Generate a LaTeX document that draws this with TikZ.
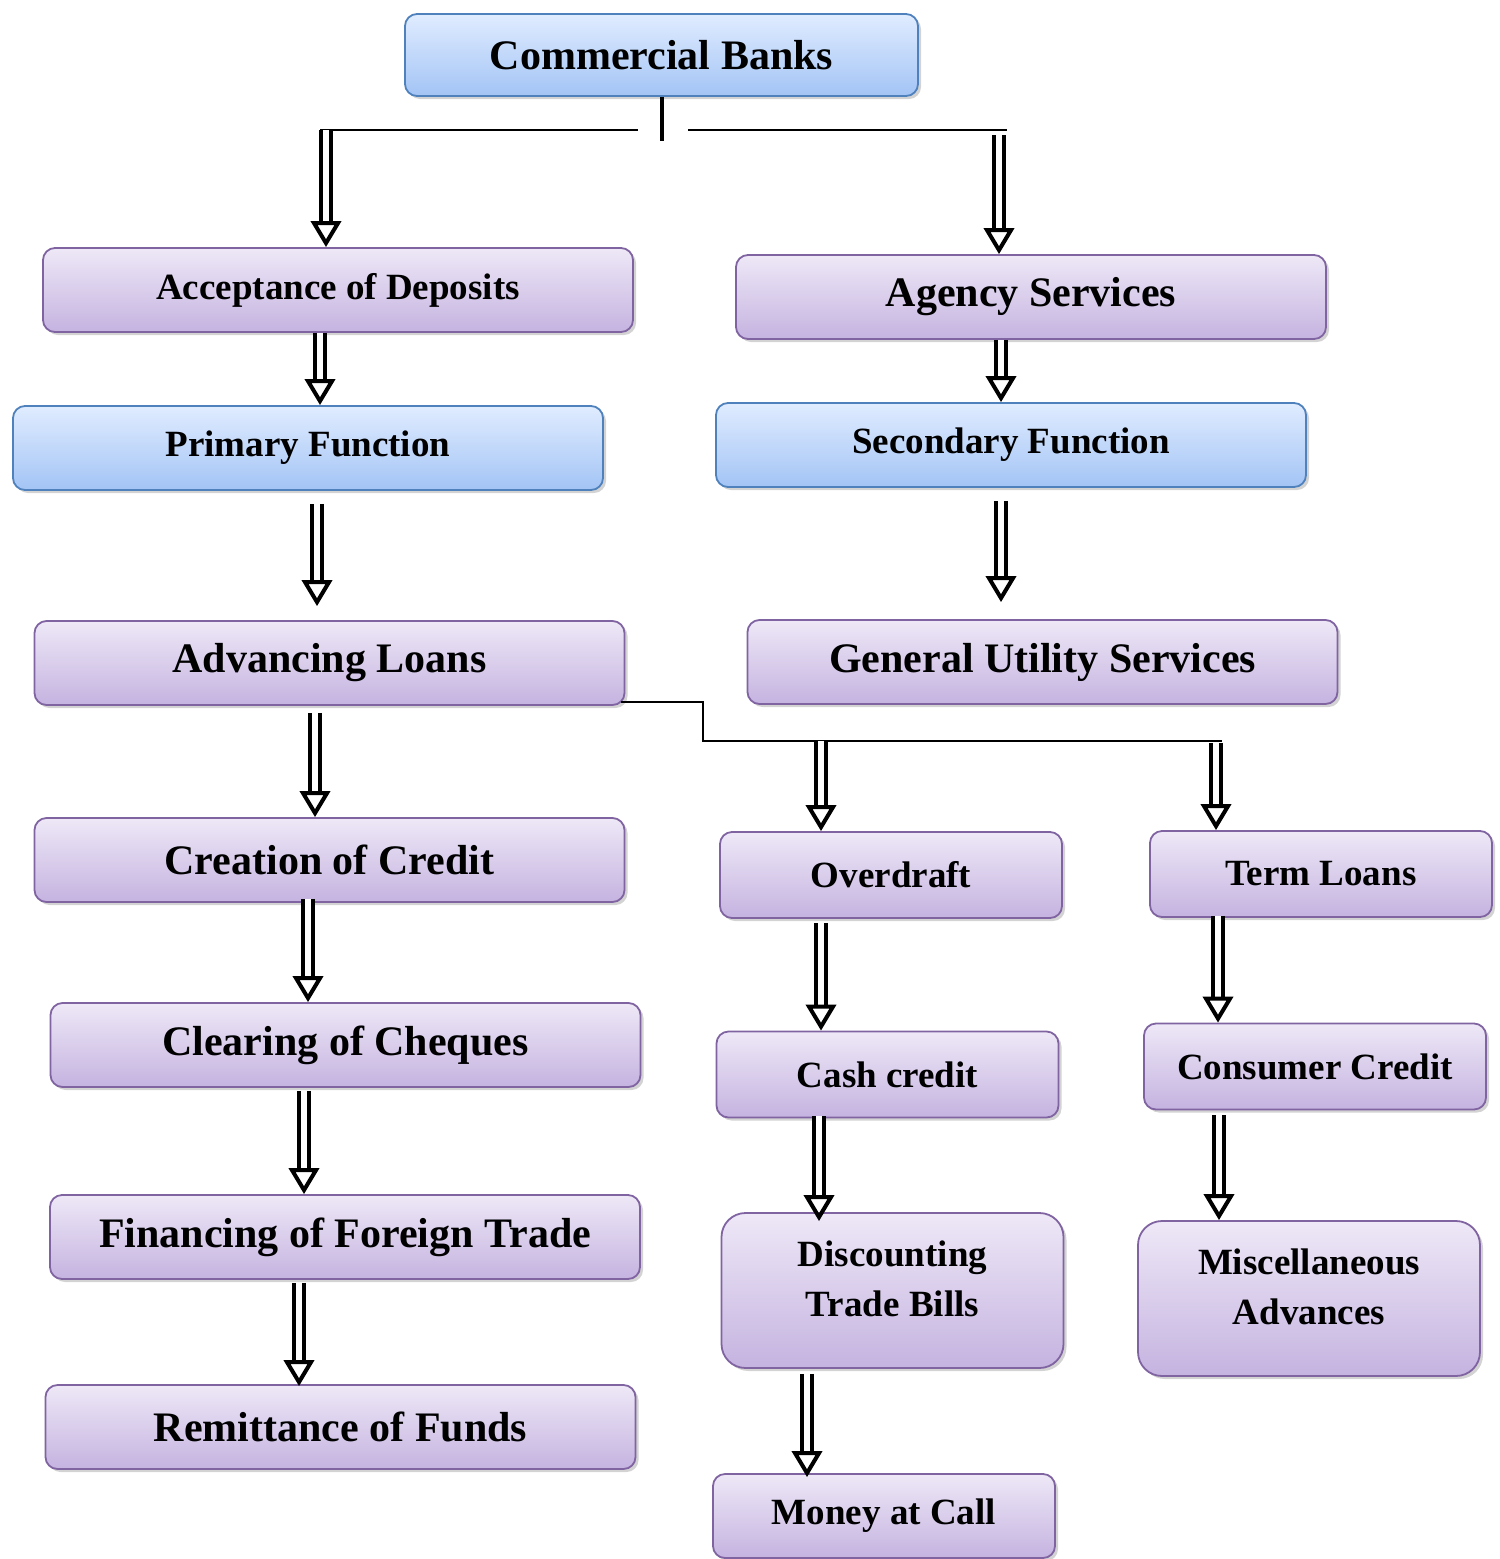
\documentclass[tikz,border=0pt]{standalone}
\usepackage{fontspec}
\setmainfont{Liberation Serif}
\usetikzlibrary{arrows.meta,calc,shadows}

\definecolor{bluetop}{HTML}{E0ECFF}
\definecolor{bluebot}{HTML}{A3C4F5}
\definecolor{blueedge}{HTML}{4F81BD}
\definecolor{purptop}{HTML}{EEE8F7}
\definecolor{purpbot}{HTML}{C5B3E0}
\definecolor{purpedge}{HTML}{8064A2}

\tikzset{
    box/.style={draw, line width=0.9pt, rounded corners=6pt, align=center,
        inner sep=0pt, minimum width=295pt, minimum height=42pt,
        drop shadow={shadow xshift=1.5pt, shadow yshift=-1.5pt, opacity=0.35}},
    bluebox/.style={box, draw=blueedge, top color=bluetop, bottom color=bluebot},
    purplebox/.style={box, draw=purpedge, top color=purptop, bottom color=purpbot},
    smallbox/.style={purplebox, minimum width=171pt, minimum height=43pt},
    tallbox/.style={smallbox, minimum height=77.5pt, rounded corners=12pt},
    bigtext/.style={font=\fontsize{21}{25}\selectfont\bfseries},
    smalltext/.style={font=\fontsize{18.5}{25}\selectfont\bfseries},
    flow/.style={double, double distance=3pt, line width=2pt,
        -{Triangle[open, length=13pt, width=15pt]}},
    link/.style={line width=0.8pt}
}

\begin{document}
\begin{tikzpicture}[x=0.5pt, y=-0.5pt]
\useasboundingbox (0,0) rectangle (1500,1559);

% top
\node[bluebox, bigtext, minimum width=256.5pt, minimum height=41pt] (cb) at (661.5,55) {Commercial Banks};

% left side
\node[purplebox, smalltext] (acc) at (338,290) {Acceptance of Deposits};
\node[bluebox, smalltext] (prim) at (308,448) {Primary Function};
\node[purplebox, bigtext] (adv) at (329.5,663) {Advancing Loans};
\node[purplebox, bigtext] (cre) at (329.5,860) {Creation of Credit};
\node[purplebox, bigtext] (clr) at (345.5,1045) {Clearing of Cheques};
\node[purplebox, bigtext] (fin) at (345,1237) {Financing of Foreign Trade};
\node[purplebox, bigtext] (rem) at (340.5,1427) {Remittance of Funds};

% right side
\node[purplebox, bigtext] (agency) at (1031,297) {Agency Services};
\node[bluebox, smalltext] (sec) at (1011,445) {Secondary Function};
\node[purplebox, bigtext] (gus) at (1042.5,662) {General Utility Services};

% kinds of loans
\node[smallbox, smalltext] (od) at (891,875) {Overdraft};
\node[smallbox, smalltext] (cc) at (887.5,1074.5) {Cash credit};
\node[tallbox, smalltext] (dis) at (892.5,1290.5) {Discounting\\Trade Bills\\[-13pt]};
\node[smallbox, smalltext, minimum height=42pt] (mac) at (884,1516) {Money at Call};
\node[smallbox, smalltext] (tl) at (1321,874) {Term Loans};
\node[smallbox, smalltext] (con) at (1315,1066.5) {Consumer Credit};
\node[tallbox, smalltext] (misc) at (1309,1298.5) {Miscellaneous\\Advances\\[-13pt]};

% split below the top box
\coordinate (hubL) at (320,130);
\coordinate (hubLe) at (638,130);
\coordinate (hubRs) at (688,130);
\coordinate (hubR) at (1007,130);
\draw[line width=2pt] (cb.south) -- ++(0,44);
\draw[link] (hubL) -- (hubLe);
\draw[link] (hubRs) -- (hubR);
\draw[flow] ($(hubL)+(6,0)$) -- ($(acc.north)+(-12,0)$);
\draw[flow] ($(hubR)+(-8,5)$) -- ($(agency.north)+(-32,0)$);

% left chain
\draw[flow] ($(acc.south)+(-18,0)$) -- ($(prim.north -| acc.south)+(-18,0)$);
\draw[flow] ($(prim.south)+(9,13)$) -- ($(adv.north -| prim.south)+(9,-14)$);
\draw[flow] ($(adv.south)+(-14.5,7)$) -- ($(cre.north -| adv.south)+(-14.5,0)$);
\draw[flow] ($(cre.south)+(-21.5,-4)$) -- ($(clr.north -| cre.south)+(-21.5,0)$);
\draw[flow] ($(clr.south)+(-41.5,3)$) -- ($(fin.north -| clr.south)+(-41.5,0)$);
\draw[flow] ($(fin.south)+(-46,3)$) -- ($(rem.north -| fin.south)+(-46,2)$);

% right chain
\draw[flow] ($(agency.south)+(-30,0)$) -- ($(sec.north -| agency.south)+(-30,0)$);
\draw[flow] ($(sec.south)+(-10,13)$) -- ($(gus.north -| sec.south)+(-10,-17)$);

% branch from advancing loans
\coordinate (brA) at (821,741);
\coordinate (brB) at (1216,741);
\draw[link] ($(adv.south east)+(-4,-4)$) -| (703,741) -- ($(brB)+(6,0)$);
\draw[flow] (brA) -- (brA |- od.north);
\draw[flow] ($(brB)+(0,2)$) -- (brB |- tl.north);

% loan chains
\draw[flow] ($(od.south)+(-70,4)$) -- ($(cc.north -| od.south)+(-70,0)$);
\draw[flow] ($(cc.south)+(-68.5,-2)$) -- ($(dis.north -| cc.south)+(-68.5,9)$);
\draw[flow] ($(dis.south)+(-85.5,5)$) -- ($(mac.north -| dis.south)+(-85.5,4)$);
\draw[flow] ($(tl.south)+(-103,-2)$) -- ($(con.north -| tl.south)+(-103,0)$);
\draw[flow] ($(con.south)+(-96,5)$) -- ($(misc.north -| con.south)+(-96,0)$);
\end{tikzpicture}
\end{document}
